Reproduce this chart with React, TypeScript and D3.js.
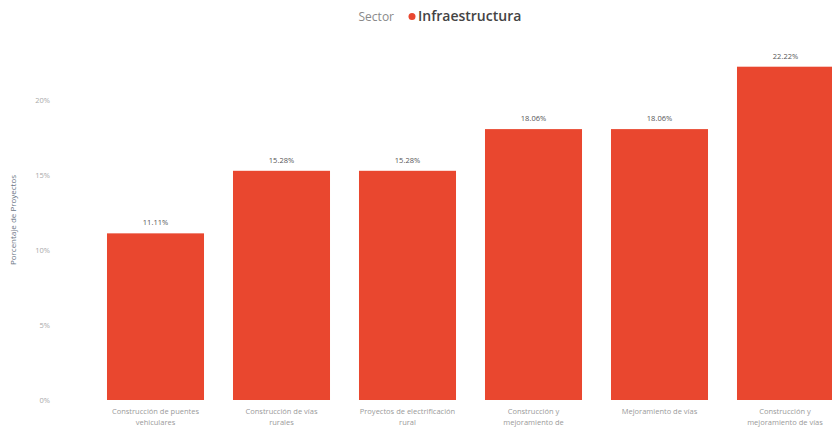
import React from "react";
import * as d3 from "d3";

const categories = [
  "Construcción de puentes vehiculares",
  "Construcción de vías rurales",
  "Proyectos de electrificación rural",
  "Construcción y mejoramiento de acueductos",
  "Mejoramiento de vías",
  "Construcción y mejoramiento de vías terciarias",
];
const categoryLines = [
  ["Construcción de puentes", "vehiculares"],
  ["Construcción de vías", "rurales"],
  ["Proyectos de electrificación", "rural"],
  ["Construcción y", "mejoramiento de"],
  ["Mejoramiento de vías", ""],
  ["Construcción y", "mejoramiento de vías"],
];
const values = [11.11, 15.28, 15.28, 18.06, 18.06, 22.22];
const yTicks = [0, 5, 10, 15, 20];
const seriesName = "Infraestructura";
const legendTitle = "Sector";
const yAxisTitle = "Porcentaje de Proyectos";

export default function App() {
  const W = 832;
  const H = 434;
  const x = d3
    .scaleBand<string>()
    .domain(categories)
    .range([92.5, 848.5])
    .paddingInner(0.23)
    .paddingOuter(0.115);
  const y = d3.scaleLinear().domain([0, 20]).range([400, 100]);
  const barColor = "#E9472F";

  return (
    <svg
      width={W}
      height={H}
      style={{ position: "absolute", left: 0, top: 0, background: "#fff" }}
      fontFamily="'Segoe UI', 'Open Sans', 'DejaVu Sans', sans-serif"
    >
      {/* legend / title */}
      <g transform="translate(0,21)">
        <text x={394} y={0} textAnchor="end" fontSize={12} fill="#8a8a8a">
          {legendTitle}
        </text>
        <circle cx={412} cy={-4.5} r={3.5} fill={barColor} />
        <text x={418} y={0} fontSize={14} fontWeight={600} fill="#444">
          {seriesName}
        </text>
      </g>

      {/* y axis title */}
      <text
        transform={`translate(16,220) rotate(-90)`}
        textAnchor="middle"
        fontSize={8}
        fill="#6a7584"
      >
        {yAxisTitle}
      </text>

      {/* y ticks */}
      {yTicks.map((t) => (
        <text
          key={t}
          x={50}
          y={y(t) + 3}
          textAnchor="end"
          fontSize={7.5}
          fill="#a9a9a9"
        >
          {`${t}%`}
        </text>
      ))}

      {/* bars */}
      {categories.map((c, i) => {
        const bx = x(c) as number;
        const bw = x.bandwidth();
        return (
          <g key={c}>
            <rect
              x={bx}
              y={y(values[i])}
              width={bw}
              height={y(0) - y(values[i])}
              fill={barColor}
            />
            <text
              x={bx + bw / 2}
              y={y(values[i]) - 8}
              textAnchor="middle"
              fontSize={7.5}
              fill="#555"
            >
              {`${values[i].toFixed(2)}%`}
            </text>
            {categoryLines[i].map((ln, j) => (
              <text
                key={j}
                x={Math.min(bx + bw / 2, 785)}
                y={414 + j * 11}
                textAnchor="middle"
                fontSize={7.5}
                fill="#9a9a9a"
              >
                {ln}
              </text>
            ))}
          </g>
        );
      })}
    </svg>
  );
}
